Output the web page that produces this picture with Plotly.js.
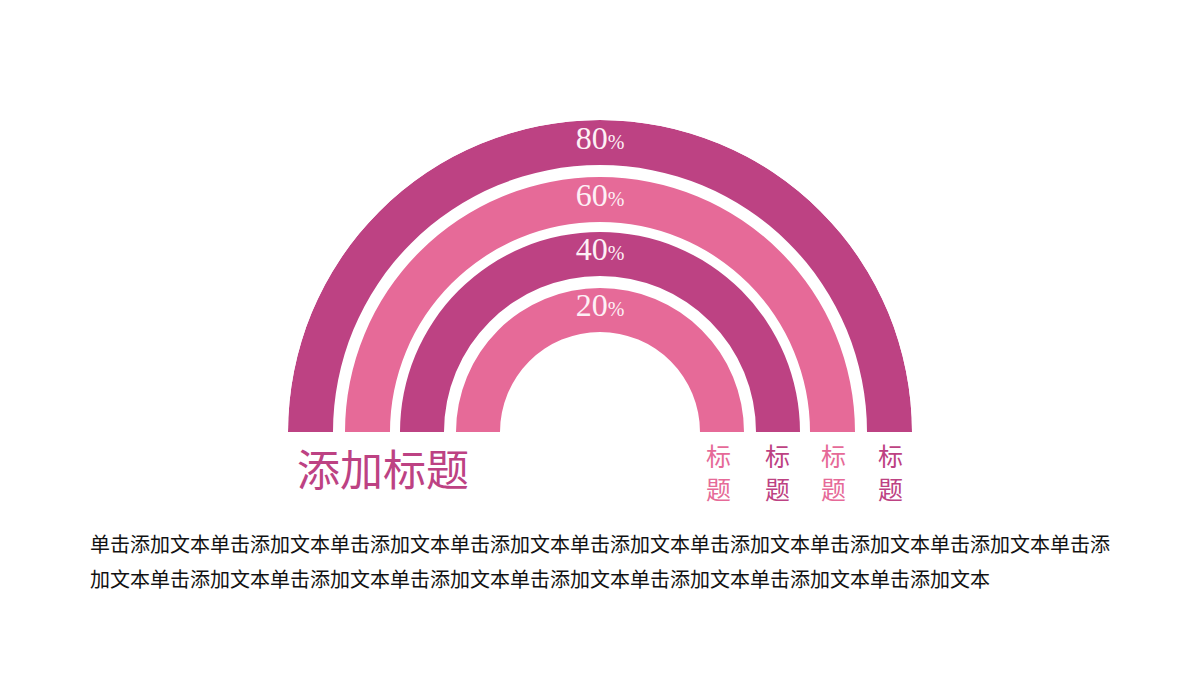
<!DOCTYPE html>
<html>
<head>
<meta charset="utf-8">
<script src="https://cdn.plot.ly/plotly-3.0.1.min.js"></script>
<style>html,body{margin:0;padding:0;background:#fff;}#chart{width:1200px;height:675px;}</style>
</head>
<body>
<div id="chart"></div>
<script>
// ---- data ----
const ringValues = [80, 60, 40, 20];               // outer -> inner
const ringLabels = ["标题", "标题", "标题", "标题"];  // one per ring, outer -> inner
const mainTitle = "添加标题";
const bodyLine1 = "单击添加文本单击添加文本单击添加文本单击添加文本单击添加文本单击添加文本单击添加文本单击添加文本单击添";
const bodyLine2 = "加文本单击添加文本单击添加文本单击添加文本单击添加文本单击添加文本单击添加文本单击添加文本";

// ---- style / layout constants ----
const W = 1200, H = 675;
const PURPLE = "#BD4283", PINK = "#E66A98";
const ringColors = [PURPLE, PINK, PURPLE, PINK];
const outerR = [312, 255, 200, 144];   // pixel radii (radial axis range 0..312)
const innerR = [267, 210, 156, 100];
const cx = 600, cy = 432, R = 312;
const labelX = [890, 833, 777, 718];   // outer -> inner
const CJK = "'Noto Sans CJK SC', 'Noto Sans', sans-serif";

const traces = [];
ringValues.forEach((v, i) => {
  traces.push({
    type: "barpolar",
    r: [outerR[i] - innerR[i]],
    base: [innerR[i]],
    theta: [90],
    width: [180],
    marker: {color: ringColors[i], line: {width: 0}},
    hoverinfo: "skip",
    showlegend: false
  });
});
traces.push({
  type: "scatterpolar",
  mode: "text",
  r: ringValues.map((v, i) => (outerR[i] + innerR[i]) / 2 + 2),
  theta: ringValues.map(() => 90),
  text: ringValues.map(v => v + "<span style='font-size:20px'>%</span>"),
  textposition: "middle center",
  textfont: {family: "'Liberation Serif', 'DejaVu Serif', serif", size: 32, color: "#FDF0F6"},
  hoverinfo: "skip",
  showlegend: false
});

const px = x => x / W, py = y => 1 - y / H;
const annotations = [];
ringLabels.forEach((lab, i) => {
  annotations.push({
    xref: "paper", yref: "paper", x: px(labelX[i]), y: py(471),
    xanchor: "center", yanchor: "middle", showarrow: false, borderpad: 0,
    text: lab.split("").join("<br>"), font: {family: CJK, size: 25, color: ringColors[i]}
  });
});
annotations.push({
  xref: "paper", yref: "paper", x: px(295), y: py(467),
  xanchor: "left", yanchor: "middle", showarrow: false,
  text: mainTitle, font: {family: CJK, size: 43, color: PURPLE}
});
[bodyLine1, bodyLine2].forEach((t, k) => {
  annotations.push({
    xref: "paper", yref: "paper", x: px(88), y: py(543 + k * 35),
    xanchor: "left", yanchor: "middle", showarrow: false,
    text: t, font: {family: CJK, size: 20, color: "#111111"}
  });
});

const layout = {
  width: W, height: H,
  margin: {l: 0, r: 0, t: 0, b: 0},
  paper_bgcolor: "#fff",
  showlegend: false,
  polar: {
    domain: {x: [(cx - R) / W, (cx + R) / W], y: [1 - cy / H, 1 - (cy - R) / H]},
    sector: [0, 180],
    hole: 0,
    bgcolor: "rgba(0,0,0,0)",
    bargap: 0,
    radialaxis: {range: [0, R], visible: false, showgrid: false},
    angularaxis: {visible: false, showgrid: false, direction: "counterclockwise", rotation: 0}
  },
  annotations: annotations
};

Plotly.newPlot("chart", traces, layout, {displayModeBar: false, staticPlot: true});
</script>
</body>
</html>
